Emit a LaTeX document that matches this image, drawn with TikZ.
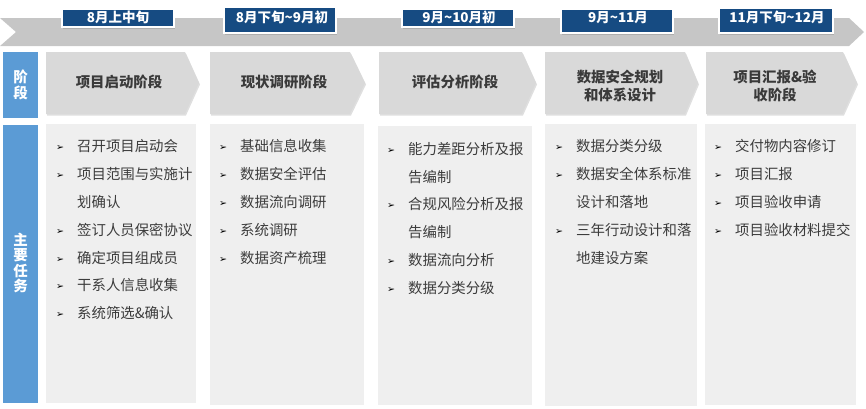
\documentclass[tikz,border=0pt]{standalone}
\usepackage{fontspec}
\setmainfont{Noto Sans CJK SC}
\newfontfamily\symfont{DejaVu Sans}
\usetikzlibrary{shadows}

\definecolor{bandgray}{HTML}{C6C6C6}
\definecolor{stagegray}{HTML}{D9D9D9}
\definecolor{taskgray}{HTML}{EFEFEF}
\definecolor{dateblue}{HTML}{164B82}
\definecolor{rowblue}{HTML}{5B9BD5}
\definecolor{titlegray}{HTML}{3A3A3A}
\definecolor{itemgray}{HTML}{3C3C3C}

% bullet and indent for the task lists
\newcommand{\bul}{\makebox[21pt][l]{\raisebox{1pt}{\color{black}\symfont\fontsize{9.5}{9.5}\selectfont ➢}}}
\newcommand{\cont}{\hspace*{21pt}}

\tikzset{
  stagebox/.style={fill=stagegray, drop shadow={shadow xshift=1pt, shadow yshift=-1.5pt, opacity=0.25}},
  taskbox/.style={fill=taskgray},
  datebox/.style={fill=dateblue, draw=white, line width=2.5pt, drop shadow={shadow xshift=1pt, shadow yshift=-1.5pt, opacity=0.35}},
  datetxt/.style={text=white, font=\bfseries\fontsize{13.5}{14}\selectfont, inner sep=0},
  stagetxt/.style={text=titlegray, font=\bfseries\fontsize{14.4}{18}\selectfont, align=center, inner sep=0},
  rowtxt/.style={text=white, font=\bfseries\fontsize{14.5}{15.3}\selectfont, align=center, inner sep=0},
  tasktxt/.style={text=itemgray, font=\fontsize{14.4}{27.8}\selectfont, align=left, inner sep=0, anchor=north west},
}

\begin{document}
\begin{tikzpicture}[x=1pt,y=-1pt]
  \useasboundingbox (0,0) rectangle (866,408);

  % time band
  \fill[bandgray] (0,18) -- (849,18) -- (864,32) -- (849,46) -- (0,46) -- (16,32) -- cycle;

  % dates
  \filldraw[datebox] (62,9) rectangle (174,27);
  \node[datetxt] (date1) at (118,17.5) {8月上中旬};
  \filldraw[datebox] (224,7) rectangle (336,33);
  \node[datetxt] (date2) at (282,17) {8月下旬\textasciitilde 9月初};
  \filldraw[datebox] (402,9) rectangle (514,27);
  \node[datetxt] (date3) at (459,17.5) {9月\textasciitilde 10月初};
  \filldraw[datebox] (561,9) rectangle (673,33);
  \node[datetxt] (date4) at (618,18) {9月\textasciitilde 11月};
  \filldraw[datebox] (719,8) rectangle (833,33);
  \node[datetxt] (date5) at (777,17) {11月下旬\textasciitilde 12月};

  % row labels
  \fill[rowblue] (3,52) rectangle (38,118);
  \node[rowtxt] (rowstage) at (20.5,85) {阶\\段};
  \fill[rowblue] (3,125) rectangle (38,403);
  \node[rowtxt] (rowtask) at (20.5,263) {主\\要\\任\\务};

  % stages
  \fill[stagebox] (46,52) -- (185,52) -- (199,83) -- (185,114) -- (46,114) -- cycle;
  \node[stagetxt] (stage1) at (119,82) {项目启动阶段};
  \fill[stagebox] (210,52) -- (350,52) -- (365,83) -- (350,114) -- (210,114) -- cycle;
  \node[stagetxt] (stage2) at (284,82) {现状调研阶段};
  \fill[stagebox] (379,52) -- (522,52) -- (536,83) -- (522,114) -- (379,114) -- cycle;
  \node[stagetxt] (stage3) at (455,82) {评估分析阶段};
  \fill[stagebox] (545,52) -- (685,52) -- (698,83) -- (685,114) -- (545,114) -- cycle;
  \node[stagetxt] (stage4) at (620,86) {数据安全规划\\和体系设计};
  \fill[stagebox] (706,52) -- (843,52) -- (857,83) -- (843,114) -- (706,114) -- cycle;
  \node[stagetxt] (stage5) at (775,86) {项目汇报\&验\\收阶段};

  % tasks
  \fill[taskbox] (46,124) rectangle (196,403);
  \node[tasktxt] (task1) at (56,139.5) {\bul 召开项目启动会\\ \bul 项目范围与实施计\\ \cont 划确认\\ \bul 签订人员保密协议\\ \bul 确定项目组成员\\ \bul 干系人信息收集\\ \bul 系统筛选\&确认};
  \fill[taskbox] (210,124) rectangle (364,405);
  \node[tasktxt] (task2) at (219,139.5) {\bul 基础信息收集\\ \bul 数据安全评估\\ \bul 数据流向调研\\ \bul 系统调研\\ \bul 数据资产梳理};
  \fill[taskbox] (378,126) rectangle (532,405);
  \node[tasktxt] (task3) at (387,142) {\bul 能力差距分析及报\\ \cont 告编制\\ \bul 合规风险分析及报\\ \cont 告编制\\ \bul 数据流向分析\\ \bul 数据分类分级};
  \fill[taskbox] (545,124) rectangle (697,406);
  \node[tasktxt] (task4) at (555,139.5) {\bul 数据分类分级\\ \bul 数据安全体系标准\\ \cont 设计和落地\\ \bul 三年行动设计和落\\ \cont 地建设方案};
  \fill[taskbox] (705,124) rectangle (856,405);
  \node[tasktxt] (task5) at (714,139.5) {\bul 交付物内容修订\\ \bul 项目汇报\\ \bul 项目验收申请\\ \bul 项目验收材料提交};
\end{tikzpicture}
\end{document}
